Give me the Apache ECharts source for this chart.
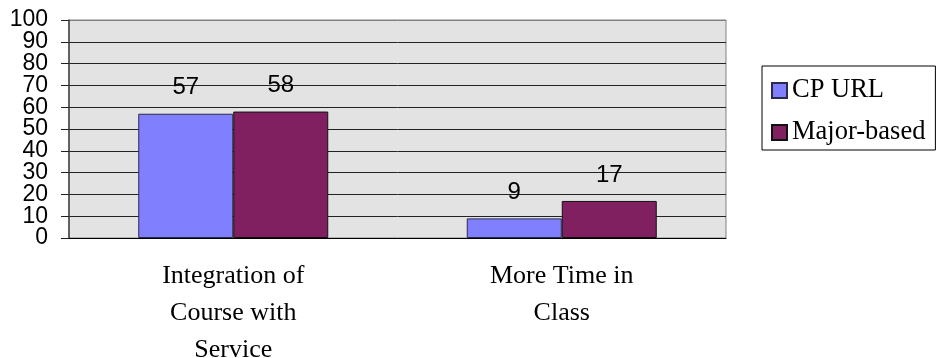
<!DOCTYPE html>
<html>
<head>
<meta charset="utf-8">
<script src="https://cdn.jsdelivr.net/npm/echarts@6/dist/echarts.min.js"></script>
<style>
  html, body { margin: 0; padding: 0; background: #fff; }
  #chart { width: 938px; height: 358px; }
</style>
</head>
<body>
<div id="chart"></div>
<script>
// categories and series
var categories = ['Integration of\nCourse with\nService', 'More Time in\nClass'];
var cpUrl = [57, 9];
var majorBased = [58, 17];
var seriesNames = ['CP URL', 'Major-based'];

var chart = echarts.init(document.getElementById('chart'));

// gridlines black, top one (100) stays gray like the plot border
var gridColors = ['#222', '#222', '#222', '#222', '#222', '#222', '#222', '#222', '#222', '#222', '#808080'];

var labelStyle = {
  show: true,
  position: 'top',
  distance: 14,
  fontFamily: 'Liberation Sans',
  fontSize: 24,
  color: '#000'
};

var yLabelFont = {
  margin: 21,
  showMinLabel: true,
  showMaxLabel: true,
  fontFamily: 'Liberation Sans',
  fontSize: 23,
  color: '#000'
};

var option = {
  animation: false,
  grid: {
    left: 69,
    right: 212,
    top: 20,
    bottom: 120,
    outerBoundsMode: 'none',
    containLabel: false,
    show: true,
    backgroundColor: '#E3E3E3',
    borderColor: '#808080',
    borderWidth: 1
  },
  legend: {
    orient: 'vertical',
    left: 762,
    top: 66,
    padding: [11, 10, 4, 9],
    itemGap: 15,
    itemWidth: 15,
    itemHeight: 15,
    icon: 'rect',
    borderColor: '#000',
    borderWidth: 1,
    textStyle: {
      fontFamily: 'Liberation Serif',
      fontSize: 26.5,
      color: '#000'
    },
    data: seriesNames
  },
  xAxis: {
    type: 'category',
    data: categories,
    axisLine: { show: true, lineStyle: { color: '#000', width: 1 } },
    axisTick: { show: false },
    axisLabel: {
      margin: 20,
      fontFamily: 'Liberation Serif',
      fontSize: 26,
      lineHeight: 37,
      color: '#000'
    }
  },
  yAxis: [
    {
      // main axis: line, ticks, gridlines, labels 0,20,...,100
      type: 'value',
      position: 'left',
      min: 0,
      max: 100,
      interval: 10,
      axisLine: { show: true, lineStyle: { color: '#444', width: 1.5 } },
      axisTick: { show: true, inside: false, length: 8, lineStyle: { color: '#222' } },
      splitLine: { show: true, lineStyle: { color: gridColors, width: 1 } },
      axisLabel: Object.assign({}, yLabelFont, {
        formatter: function (v) { return v % 20 === 0 ? String(v) : ''; }
      })
    },
    {
      // second pass for labels 10,30,...,90 (avoids overlap hiding)
      type: 'value',
      position: 'left',
      offset: 0,
      min: 0,
      max: 100,
      interval: 10,
      axisLine: { show: false },
      axisTick: { show: false },
      splitLine: { show: false },
      axisLabel: Object.assign({}, yLabelFont, {
        formatter: function (v) { return v % 20 === 10 ? String(v) : ''; }
      })
    }
  ],
  series: [
    {
      name: seriesNames[0],
      type: 'bar',
      data: cpUrl,
      barWidth: 95,
      barGap: '0%',
      itemStyle: { color: '#8080FF', borderColor: '#2a2a4a', borderWidth: 1 },
      label: labelStyle
    },
    {
      name: seriesNames[1],
      type: 'bar',
      data: majorBased,
      barWidth: 95,
      barGap: '0%',
      itemStyle: { color: '#802060', borderColor: '#111', borderWidth: 1 },
      label: labelStyle
    }
  ]
};

chart.setOption(option);
</script>
</body>
</html>
